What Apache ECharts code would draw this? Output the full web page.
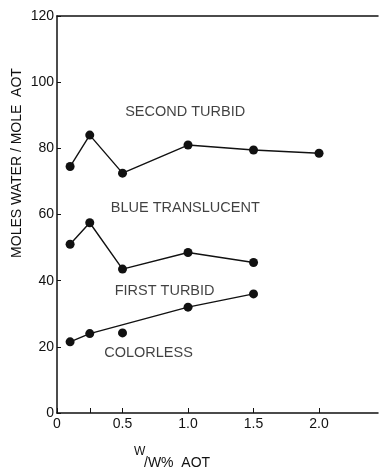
<!DOCTYPE html>
<html><head><meta charset="utf-8">
<script src="https://cdn.jsdelivr.net/npm/echarts@6/dist/echarts.min.js"></script>
<style>html,body{margin:0;padding:0;background:#fff}#c{width:380px;height:474px}</style>
</head><body><div id="c"></div>
<script>
// Data
var secondTurbidX = [0.1, 0.25, 0.5, 1.0, 1.5, 2.0];
var secondTurbidY = [74.5, 84, 72.5, 81, 79.5, 78.5];
var blueTranslucentX = [0.1, 0.25, 0.5, 1.0, 1.5];
var blueTranslucentY = [51, 57.5, 43.5, 48.5, 45.5];
var colorlessLineX = [0.1, 0.25, 1.0, 1.5];
var colorlessLineY = [21.5, 24, 32, 36];
var colorlessLoneX = [0.5];
var colorlessLoneY = [24.2];
var labelNames = ['SECOND TURBID', 'BLUE TRANSLUCENT', 'FIRST TURBID', 'COLORLESS'];
var labelX = [0.52, 0.41, 0.44, 0.36];
var labelY = [91, 62, 37, 18];
var xTickValues = [0, 0.25, 0.5, 1.0, 1.5, 2.0];
var xLabelValues = [0, 0.5, 1.0, 1.5, 2.0];
var yTickLabels = [0, 20, 40, 60, 80, 100, 120];

function zip(a, b) { return a.map(function (v, i) { return [v, b[i]]; }); }

var ink = '#111';
var font = 'Liberation Sans';
var chart = echarts.init(document.getElementById('c'), null, {renderer: 'canvas'});
var lineStyle = {color: ink, width: 1.4};
var itemStyle = {color: ink, opacity: 1};
chart.setOption({
  animation: false,
  backgroundColor: '#fff',
  grid: {left: 57, top: 16, right: 2, bottom: 61, containLabel: false},
  xAxis: [{
    type: 'value', min: 0, max: 2.45,
    axisLine: {lineStyle: {color: ink, width: 1.5}},
    axisTick: {inside: true, length: 5, customValues: xTickValues, lineStyle: {color: ink, width: 1}},
    axisLabel: {customValues: xLabelValues, color: ink, fontFamily: font, fontSize: 14, margin: 4,
      formatter: function (v) { return v === 0 ? '0' : v.toFixed(1); }},
    splitLine: {show: false}
  }, {
    type: 'value', min: 0, max: 2.45, position: 'top',
    axisLine: {show: true, lineStyle: {color: ink, width: 1.5}},
    axisTick: {show: false}, axisLabel: {show: false}, splitLine: {show: false}
  }],
  yAxis: {
    type: 'value', min: 0, max: 120, interval: 20,
    axisLine: {show: true, lineStyle: {color: ink, width: 1.5}},
    axisTick: {show: true, inside: true, length: 4, lineStyle: {color: ink, width: 1}},
    axisLabel: {color: ink, fontFamily: font, fontSize: 14, margin: 3,
      formatter: function (v) { return yTickLabels.indexOf(v) >= 0 ? String(v) : ''; }},
    splitLine: {show: false}
  },
  graphic: [
    {type: 'text', x: 17, y: 163, rotation: Math.PI / 2,
      style: {text: 'MOLES WATER / MOLE  AOT', fill: ink, font: '14px "Liberation Sans"', align: 'center', verticalAlign: 'middle'}},
    {type: 'text', x: 134, y: 446,
      style: {text: 'W', fill: ink, font: '12px "Liberation Sans"'}},
    {type: 'text', x: 144, y: 456,
      style: {text: '/W%  AOT', fill: ink, font: '14px "Liberation Sans"'}}
  ],
  series: [
    {type: 'line', data: zip(secondTurbidX, secondTurbidY), symbol: 'circle', symbolSize: 9,
      lineStyle: lineStyle, itemStyle: itemStyle},
    {type: 'line', data: zip(blueTranslucentX, blueTranslucentY), symbol: 'circle', symbolSize: 9,
      lineStyle: lineStyle, itemStyle: itemStyle},
    {type: 'line', data: zip(colorlessLineX, colorlessLineY), symbol: 'circle', symbolSize: 9,
      lineStyle: lineStyle, itemStyle: itemStyle},
    {type: 'scatter', data: zip(colorlessLoneX, colorlessLoneY), symbol: 'circle', symbolSize: 9,
      itemStyle: itemStyle},
    {type: 'scatter', symbolSize: 0, silent: true,
      data: labelNames.map(function (n, i) { return {value: [labelX[i], labelY[i]], name: n}; }),
      label: {show: true, position: 'right', distance: 0, formatter: '{b}', color: ink,
        fontFamily: font, fontSize: 14.5}}
  ]
});
</script></body></html>
